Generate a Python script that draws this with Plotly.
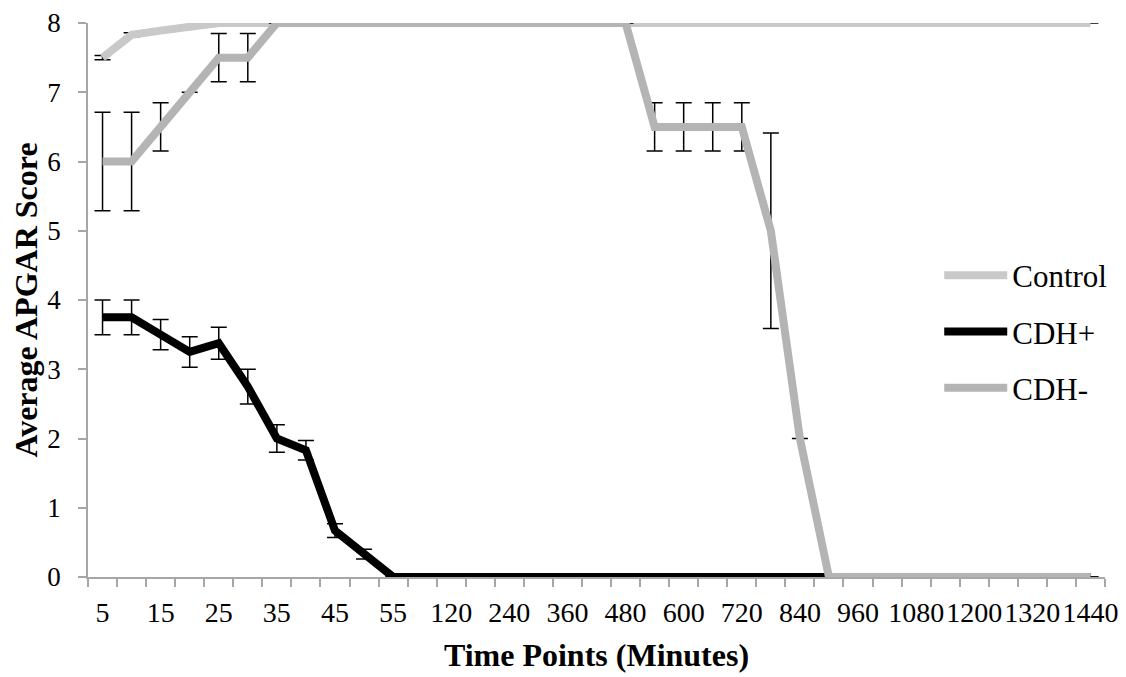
import plotly.graph_objects as go

# ---- data ----
time_points = [5, 10, 15, 20, 25, 30, 35, 40, 45, 50, 55, 60,
               120, 180, 240, 300, 360, 420, 480, 540, 600, 660, 720, 780,
               840, 900, 960, 1020, 1080, 1140, 1200, 1260, 1320, 1380, 1440]

control = [7.5, 7.83, 7.89, 7.94] + [8] * 31
control_err = [0.03, 0.03, 0, 0] + [0] * 31

cdh_pos = [3.75, 3.75, 3.5, 3.25, 3.375, 2.75, 2.0, 1.83, 0.67, 0.33] + [0] * 25
cdh_pos_err = [0.25, 0.25, 0.22, 0.22, 0.23, 0.25, 0.2, 0.14, 0.1, 0.07] + [0] * 25

cdh_neg = ([6.0, 6.0, 6.5, 7.0, 7.5, 7.5] + [8] * 13 +
           [6.5, 6.5, 6.5, 6.5, 5.0, 2.0] + [0] * 10)
cdh_neg_err = ([0.71, 0.71, 0.35, 0, 0.35, 0.35] + [0] * 13 +
               [0.35, 0.35, 0.35, 0.35, 1.41, 0] + [0] * 10)

series_names = ["Control", "CDH+", "CDH-"]
series_colors = ["#c9c9c9", "#000000", "#b4b4b4"]

x_idx = list(range(len(time_points)))
tick_vals = x_idx[::2]
tick_text = [str(t) for t in time_points[::2]]

FONT = "Liberation Serif"

fig = go.Figure()
for name, vals, errs, col in zip(series_names,
                                 [control, cdh_pos, cdh_neg],
                                 [control_err, cdh_pos_err, cdh_neg_err],
                                 series_colors):
    fig.add_trace(go.Scatter(
        x=x_idx, y=vals, name=name, mode="lines",
        line=dict(color=col, width=8),
        error_y=dict(type="data", array=errs, visible=True,
                     color="black", thickness=1.5, width=8),
        cliponaxis=False, legendgroup=name,
    ))

# page body has an 8px margin, so the figure is sized/offset to compensate
fig.update_layout(
    width=1118, height=669,
    margin=dict(l=80, r=21, t=15, b=100),
    paper_bgcolor="white", plot_bgcolor="white",
    font=dict(family=FONT, color="black"),
    showlegend=True,
    legend=dict(x=0.837, y=0.443, xanchor="left", yanchor="middle",
                font=dict(family=FONT, size=31, color="black"),
                bgcolor="rgba(0,0,0,0)", tracegroupgap=13,
                itemwidth=63),
    xaxis=dict(
        range=[-0.5, len(time_points) - 0.5],
        tickmode="array", tickvals=tick_vals, ticktext=tick_text,
        ticks="", showline=True, linecolor="#a6a6a6", linewidth=1.5,
        showgrid=False, zeroline=False, layer="below traces",
        tickfont=dict(family=FONT, size=28, color="black"),
        ticklabelstandoff=10, automargin=False, ticklabeloverflow="allow",
        minor=dict(tickmode="array",
                   tickvals=[i - 0.5 for i in range(len(time_points) + 1)],
                   ticks="outside", ticklen=8, tickwidth=1.5, tickcolor="#a6a6a6",
                   showgrid=False),
        title=dict(text="<b>Time Points (Minutes)</b>",
                   font=dict(family=FONT, size=32, color="black"), standoff=16),
    ),
    yaxis=dict(
        range=[0, 8], dtick=1, tick0=0,
        ticks="outside", ticklen=8, tickwidth=1.5, tickcolor="#a6a6a6",
        showline=True, linecolor="#a6a6a6", linewidth=1.5,
        showgrid=False, zeroline=False, layer="below traces",
        tickfont=dict(family=FONT, size=27, color="black"),
        ticklabelstandoff=12, automargin=False, ticklabeloverflow="allow",
        title=dict(text="<b>Average APGAR Score</b>",
                   font=dict(family=FONT, size=32, color="black"), standoff=12),
    ),
)

fig.write_html("out.html")
